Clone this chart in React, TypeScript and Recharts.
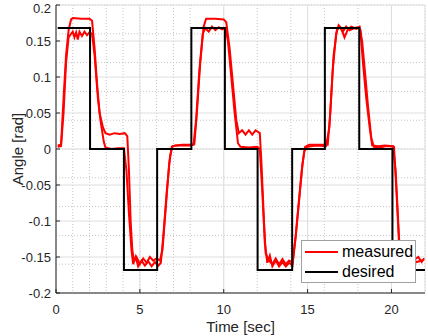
import { LineChart, Line, XAxis, YAxis, CartesianGrid, Legend, Label } from "recharts";

const TIME_TICKS = [0, 5, 10, 15, 20];
const ANGLE_TICKS = [-0.2, -0.15, -0.1, -0.05, 0, 0.05, 0.1, 0.15, 0.2];
// minor grid: every 1 s and every 0.01 rad
const TIME_MINOR = Array.from({ length: 23 }, (_, i) => i);
const ANGLE_MINOR = Array.from({ length: 41 }, (_, i) => Math.round((i * 0.01 - 0.2) * 100) / 100);
const LEGEND_NAMES = ["measured", "desired"];

// [time, angle]
const DESIRED: [number, number][] = [
  [0.1, 0.168], [2.03, 0.168], [2.03, 0], [4.05, 0], [4.05, -0.168], [6.03, -0.168],
  [6.03, 0], [8.07, 0], [8.07, 0.168], [10.07, 0.168], [10.07, 0], [12.02, 0],
  [12.02, -0.168], [14.08, -0.168], [14.08, 0], [16.03, 0], [16.03, 0.168], [18.08, 0.168],
  [18.08, 0], [20.06, 0], [20.06, -0.168], [22, -0.168],
];

const MEASURED_A: [number, number][] = [
  [0.1, 0.005], [0.3, 0.006], [0.45, 0.07], [0.6, 0.13], [0.75, 0.165], [0.9, 0.18], [1.0, 0.182],
  [1.5, 0.181], [2.0, 0.181], [2.15, 0.178], [2.3, 0.14], [2.45, 0.09], [2.6, 0.05], [2.8, 0.03],
  [2.95, 0.022], [3.2, 0.02], [3.5, 0.022], [3.8, 0.021], [4.1, 0.022], [4.25, 0.018], [4.35, -0.03],
  [4.45, -0.1], [4.55, -0.14], [4.65, -0.155], [4.8, -0.15], [5.0, -0.16], [5.2, -0.152], [5.4, -0.158],
  [5.6, -0.15], [5.8, -0.155], [6.0, -0.152], [6.2, -0.155], [6.35, -0.14], [6.55, -0.08], [6.75, -0.02],
  [6.9, 0.003], [7.1, 0.005], [7.5, 0.005], [8.0, 0.005], [8.25, 0.007], [8.4, 0.05], [8.6, 0.12],
  [8.8, 0.17], [8.95, 0.181], [9.5, 0.181], [10.0, 0.18], [10.15, 0.176], [10.35, 0.14], [10.55, 0.09],
  [10.75, 0.04], [10.9, 0.022], [11.1, 0.026], [11.3, 0.02], [11.5, 0.026], [11.7, 0.02], [11.9, 0.026],
  [12.15, 0.022], [12.25, -0.02], [12.4, -0.1], [12.5, -0.145], [12.7, -0.155], [12.9, -0.16],
  [13.1, -0.152], [13.3, -0.16], [13.5, -0.153], [13.7, -0.16], [13.9, -0.155], [14.1, -0.158],
  [14.3, -0.12], [14.5, -0.07], [14.7, -0.02], [14.85, 0.003], [15.1, 0.006], [15.5, 0.006], [16.0, 0.006],
  [16.2, 0.006], [16.35, 0.05], [16.55, 0.13], [16.75, 0.165], [16.9, 0.17], [17.1, 0.163], [17.3, 0.17],
  [17.5, 0.165], [17.8, 0.168], [18.0, 0.169], [18.15, 0.165], [18.3, 0.12], [18.5, 0.07], [18.7, 0.03],
  [18.85, 0.005], [19.2, 0.004], [19.6, 0.005], [20.1, 0.004], [20.25, -0.03], [20.4, -0.1], [20.5, -0.145],
  [20.7, -0.155], [21.2, -0.152], [21.5, -0.157], [21.9, -0.154],
];

const MEASURED_B: [number, number][] = [
  [0.1, 0.003], [0.3, 0.004], [0.45, 0.05], [0.6, 0.12], [0.75, 0.155], [0.9, 0.16], [1.0, 0.163],
  [1.1, 0.155], [1.2, 0.162], [1.3, 0.152], [1.4, 0.163], [1.55, 0.157], [1.7, 0.163], [1.85, 0.158],
  [2.0, 0.162], [2.15, 0.16], [2.3, 0.13], [2.5, 0.07], [2.65, 0.04], [2.85, 0.01], [2.95, 0.002],
  [3.3, 0.0], [3.7, 0.001], [4.05, 0.001], [4.2, -0.03], [4.35, -0.09], [4.5, -0.14], [4.6, -0.16],
  [4.75, -0.15], [4.9, -0.163], [5.1, -0.155], [5.3, -0.162], [5.5, -0.156], [5.7, -0.163], [5.9, -0.157],
  [6.1, -0.162], [6.25, -0.158], [6.4, -0.12], [6.6, -0.06], [6.8, -0.01], [6.95, 0.004], [7.5, 0.006],
  [8.0, 0.006], [8.2, 0.006], [8.35, 0.04], [8.55, 0.11], [8.75, 0.16], [8.9, 0.168], [9.1, 0.163],
  [9.3, 0.17], [9.5, 0.165], [9.7, 0.169], [9.9, 0.166], [10.1, 0.168], [10.25, 0.15], [10.45, 0.1],
  [10.65, 0.05], [10.85, 0.008], [11.0, 0.003], [11.5, 0.002], [12.0, 0.003], [12.15, 0.0], [12.3, -0.06],
  [12.45, -0.13], [12.6, -0.158], [12.75, -0.148], [12.9, -0.163], [13.1, -0.155], [13.3, -0.163],
  [13.5, -0.157], [13.7, -0.163], [13.9, -0.158], [14.1, -0.162], [14.25, -0.13], [14.45, -0.08],
  [14.65, -0.03], [14.8, -0.003], [15.0, 0.003], [15.5, 0.005], [16.1, 0.004], [16.3, 0.03], [16.5, 0.11],
  [16.7, 0.16], [16.85, 0.172], [17.0, 0.168], [17.2, 0.155], [17.4, 0.166], [17.6, 0.17], [17.9, 0.167],
  [18.1, 0.17], [18.25, 0.15], [18.45, 0.1], [18.6, 0.06], [18.8, 0.015], [18.95, 0.003], [19.3, 0.002],
  [19.7, 0.004], [20.15, 0.003], [20.3, -0.06], [20.45, -0.13], [20.6, -0.16], [20.8, -0.148],
  [21.3, -0.155], [21.6, -0.15], [21.8, -0.157], [21.95, -0.152],
];

const toRows = (pts: [number, number][]) => pts.map(([t, v]) => ({ t, v }));

const axisColor = "#262626";
const tickStyle = { fontSize: 13, fill: axisColor };

const LegendBox = ({ payload }: any) => {
  const items = LEGEND_NAMES.map((n) => (payload || []).find((p: any) => p.value === n)).filter(Boolean);
  return (
    <div
      style={{
        width: 115,
        height: 43,
        boxSizing: "border-box",
        border: "1px solid #a0a0a0",
        background: "#fff",
        paddingTop: 1,
        fontSize: 16,
        color: "#000",
      }}
    >
      {items.map((item: any) => (
        <div key={item.value} style={{ display: "flex", alignItems: "center", height: 20 }}>
          <div style={{ width: 33, height: 2, background: item.color, marginLeft: 3, marginRight: 4 }} />
          <span>{item.value}</span>
        </div>
      ))}
    </div>
  );
};

export default function App() {
  return (
    <div style={{ position: "absolute", left: 0, top: 0, fontFamily: "'Liberation Sans', Arial, sans-serif" }}>
      <LineChart width={428} height={336} margin={{ top: 5, right: 3, left: 0, bottom: 0 }}>
        <XAxis xAxisId="minor" type="number" dataKey="t" domain={[0, 22]} ticks={TIME_MINOR} allowDataOverflow hide />
        <YAxis yAxisId="minor" type="number" domain={[-0.2, 0.2]} ticks={ANGLE_MINOR} allowDataOverflow hide />
        <CartesianGrid xAxisId="minor" yAxisId="minor" stroke="#c4c4c4" strokeDasharray="1 2" />
        <CartesianGrid stroke="#dedede" />
        <XAxis
          type="number"
          dataKey="t"
          domain={[0, 22]}
          ticks={TIME_TICKS}
          allowDataOverflow
          height={43}
          stroke={axisColor}
          tick={tickStyle}
          tickSize={-4}
          tickMargin={16}
        >
          <Label value="Time [sec]" position="insideBottom" offset={4} style={{ fontSize: 15, fill: axisColor }} />
        </XAxis>
        <YAxis
          type="number"
          domain={[-0.2, 0.2]}
          ticks={ANGLE_TICKS}
          allowDataOverflow
          width={56}
          stroke={axisColor}
          tick={tickStyle}
          tickSize={-4}
          tickMargin={9}
        >
          <Label
            value="Angle [rad]"
            angle={-90}
            position="insideLeft"
            offset={18}
            style={{ fontSize: 15, fill: axisColor, textAnchor: "middle" }}
          />
        </YAxis>
        <Legend
          layout="horizontal"
          align="center"
          verticalAlign="middle"
          content={(props: any) => <LegendBox payload={props.payload} />}
          wrapperStyle={{ left: 301, top: 240, width: 116, height: 43 }}
        />
        <Line
          name="measured"
          data={toRows(MEASURED_A)}
          dataKey="v"
          stroke="#ff0000"
          strokeWidth={2}
          dot={false}
          isAnimationActive={false}
        />
        <Line
          name="measured run 2"
          legendType="none"
          data={toRows(MEASURED_B)}
          dataKey="v"
          stroke="#ff0000"
          strokeWidth={2}
          dot={false}
          isAnimationActive={false}
        />
        <Line
          name="desired"
          data={toRows(DESIRED)}
          dataKey="v"
          stroke="#000000"
          strokeWidth={2}
          dot={false}
          isAnimationActive={false}
        />
      </LineChart>
    </div>
  );
}
